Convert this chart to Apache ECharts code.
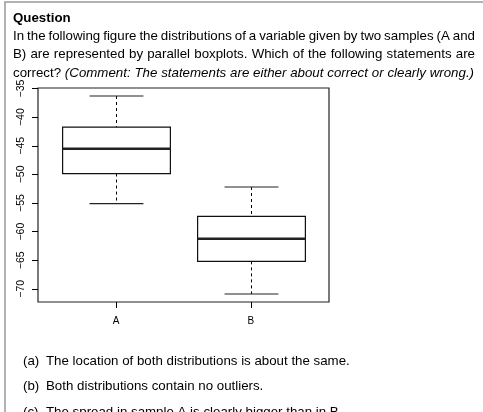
<!DOCTYPE html>
<html>
<head>
<meta charset="utf-8">
<script src="https://cdn.jsdelivr.net/npm/echarts@6/dist/echarts.min.js"></script>
<style>
  html, body { margin: 0; padding: 0; background: #fff; }
  #container { width: 483px; height: 412px; }
</style>
</head>
<body>
<div id="container"></div>
<script>
var categories = ["A", "B"];
var whiskerLow = [-55.1, -70.9];
var q1 = [-49.85, -65.2];
var median = [-45.5, -61.25];
var q3 = [-41.75, -57.35];
var whiskerHigh = [-36.3, -52.2];
var yTicks = [-70, -65, -60, -55, -50, -45, -40, -35];
var xTicks = [1, 2];

var questionLines = [
  "In the following figure the distributions of a variable given by two samples (A and",
  "B) are represented by parallel boxplots. Which of the following statements are",
];
var questionTail = "correct?";
var questionItalic = "(Comment: The statements are either about correct or clearly wrong.)";
var answers = [
  ["(a)", "The location of both distributions is about the same."],
  ["(b)", "Both distributions contain no outliers."],
  ["(c)", "The spread in sample A is clearly bigger than in B."],
];

var FONT = '"Liberation Sans", Arial, Helvetica, sans-serif';
var FS = 13.3;

var dom = document.getElementById("container");
var myChart = echarts.init(dom, null, { renderer: "canvas" });

var measureCtx = document.createElement("canvas").getContext("2d");
function fontOf(italic) {
  return (italic ? "italic " : "") + FS + "px " + FONT;
}
function textWidth(t, italic) {
  measureCtx.font = fontOf(italic);
  return measureCtx.measureText(t).width;
}

// spread words so the line fills the given width (justified text)
function justifyLine(words, y, left, width) {
  var total = 0;
  words.forEach(function (w) {
    w.w = textWidth(w.t, w.italic);
    total += w.w;
  });
  var gap = Math.max((width - total) / (words.length - 1), 2);
  var x = left;
  return words.map(function (w) {
    var el = {
      type: "text",
      x: x,
      y: y,
      style: {
        text: w.t,
        font: fontOf(w.italic),
        fill: "#000",
        textVerticalAlign: "middle",
      },
    };
    x += w.w + gap;
    return el;
  });
}

var graphics = [];
graphics.push({
  type: "polyline",
  shape: { points: [[5, 412], [5, 2], [483, 2]] },
  style: { stroke: "#999", lineWidth: 1.5, fill: null },
});
graphics.push({
  type: "text",
  x: 13,
  y: 18,
  style: { text: "Question", font: "bold " + FS + "px " + FONT, fill: "#000", textVerticalAlign: "middle" },
});
questionLines.forEach(function (line, i) {
  var words = line.split(" ").map(function (t) { return { t: t }; });
  graphics = graphics.concat(justifyLine(words, 36 + i * 18.5, 13, 462));
});
var lastWords = [{ t: questionTail }].concat(
  questionItalic.split(" ").map(function (t) { return { t: t, italic: true }; })
);
graphics = graphics.concat(justifyLine(lastWords, 73, 13, 461));

answers.forEach(function (a, i) {
  var y = 361 + i * 25.7;
  graphics.push({
    type: "text", x: 23, y: y,
    style: { text: a[0], font: fontOf(false), fill: "#000", textVerticalAlign: "middle" },
  });
  graphics.push({
    type: "text", x: 46, y: y,
    style: { text: a[1], font: fontOf(false), fill: "#000", textVerticalAlign: "middle" },
  });
});

var boxData = categories.map(function (c, i) {
  return [i + 1, whiskerLow[i], q1[i], median[i], q3[i], whiskerHigh[i]];
});

function renderBox(params, api) {
  var x = api.value(0);
  var pLow = api.coord([x, api.value(1)]);
  var pQ1 = api.coord([x, api.value(2)]);
  var pMed = api.coord([x, api.value(3)]);
  var pQ3 = api.coord([x, api.value(4)]);
  var pHigh = api.coord([x, api.value(5)]);
  var half = api.size([0.4, 0])[0];
  var cap = api.size([0.2, 0])[0];
  var cx = Math.round(pMed[0]) + 0.5;
  var lineStyle = { stroke: "#222", lineWidth: 1.2, fill: null };
  var dashStyle = { stroke: "#000", lineWidth: 1, lineDash: [3, 3] };
  return {
    type: "group",
    children: [
      { type: "line", shape: { x1: cx, y1: pHigh[1], x2: cx, y2: pQ3[1] }, style: dashStyle },
      { type: "line", shape: { x1: cx, y1: pQ1[1], x2: cx, y2: pLow[1] }, style: dashStyle },
      { type: "line", shape: { x1: cx - cap, y1: pHigh[1], x2: cx + cap, y2: pHigh[1] }, style: lineStyle },
      { type: "line", shape: { x1: cx - cap, y1: pLow[1], x2: cx + cap, y2: pLow[1] }, style: lineStyle },
      {
        type: "rect",
        shape: { x: cx - half, y: pQ3[1], width: 2 * half, height: pQ1[1] - pQ3[1] },
        style: { stroke: "#111", lineWidth: 1.2, fill: "#fff" },
      },
      {
        type: "line",
        shape: { x1: cx - half, y1: pMed[1], x2: cx + half, y2: pMed[1] },
        style: { stroke: "#222", lineWidth: 2.5 },
      },
    ],
  };
}

var option = {
  backgroundColor: "#fff",
  animation: false,
  graphic: graphics,
  grid: {
    left: 38,
    right: 154,
    top: 88,
    bottom: 110,
    show: true,
    borderColor: "#222",
    borderWidth: 1.2,
    outerBoundsMode: "none",
  },
  xAxis: {
    type: "value",
    min: 0.42,
    max: 2.58,
    axisLine: { show: false },
    splitLine: { show: false },
    axisTick: { show: true, customValues: xTicks, length: 6, lineStyle: { color: "#000" } },
    axisLabel: {
      customValues: xTicks,
      formatter: function (v) { return categories[Math.round(v) - 1]; },
      margin: 14,
      fontSize: 10,
      fontFamily: FONT,
      color: "#000",
    },
  },
  yAxis: {
    type: "value",
    min: -72.3,
    max: -34.9,
    axisLine: { show: false },
    splitLine: { show: false },
    axisTick: { show: true, customValues: yTicks, length: 6, lineStyle: { color: "#000" } },
    axisLabel: {
      customValues: yTicks,
      formatter: function (v) { return String(v).replace("-", "\u2212"); },
      rotate: 90,
      margin: 11,
      fontSize: 10.5,
      fontFamily: FONT,
      color: "#000",
    },
  },
  series: [
    {
      type: "custom",
      renderItem: renderBox,
      data: boxData,
      clip: false,
    },
  ],
};

if (option && typeof option === "object") {
  myChart.setOption(option);
}
</script>
</body>
</html>
